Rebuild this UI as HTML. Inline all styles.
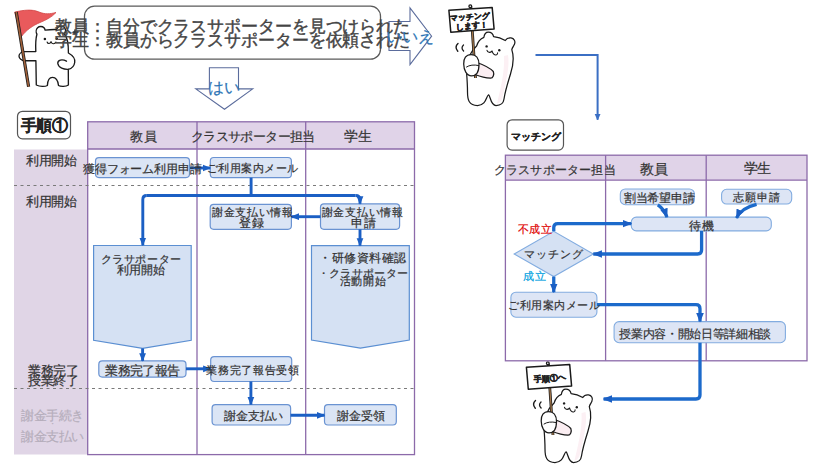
<!DOCTYPE html>
<html><head><meta charset="utf-8">
<style>
html,body{margin:0;padding:0;background:#fff;}
body{width:818px;height:464px;position:relative;overflow:hidden;font-family:"Liberation Sans",sans-serif;color:#333;}
svg{position:absolute;left:0;top:0;}
.t{position:absolute;white-space:nowrap;line-height:1;transform:translate(-50%,-50%);-webkit-text-stroke:0.2px currentColor;}
</style></head><body>
<svg width="818" height="464" viewBox="0 0 818 464">
<defs>
<marker id="ah" viewBox="0 0 10 10" refX="9" refY="5" markerWidth="2.9" markerHeight="2.9" orient="auto" markerUnits="strokeWidth">
<path d="M0,1 L10,5 L0,9 z" fill="#1b5fc4"/></marker>
<marker id="ah2" viewBox="0 0 10 10" refX="9" refY="5" markerWidth="3.4" markerHeight="3.4" orient="auto" markerUnits="strokeWidth">
<path d="M0,0.5 L10,5 L0,9.5 z" fill="#3b6fc4"/></marker>
</defs>
<!-- speech bubble -->
<rect x="84.5" y="6.2" width="296" height="53" rx="10" fill="#fff" stroke="#5a5a5a" stroke-width="1.3"/>
<!-- いいえ arrow -->
<polygon points="389,21.5 410,21.5 410,7.8 431.6,36.2 410,64.5 410,50.5 389,50.5" fill="#fff" stroke="#5b6c9c" stroke-width="1.1"/>
<!-- はい arrow -->
<polygon points="209.4,67.8 238.5,67.8 238.5,88.9 252.7,88.9 224.5,109.3 195.8,88.9 209.4,88.9" fill="#fff" stroke="#5b6c9c" stroke-width="1.1"/>
<!-- top right blue line -->
<path d="M535.5,55 H597.6 V119.8" fill="none" stroke="#3b6fc4" stroke-width="2" marker-end="url(#ah2)"/>
<!-- flag bear -->
<g id="flagbear" stroke="#1a1a1a" stroke-width="1.35" stroke-linejoin="round" stroke-linecap="round">
<path d="M15,12 C24,10 32,9 39,12 C45,14.5 50,14 56,12.5 C52,17 46,20 40,22.5 C33,25.5 26,30 21.5,36.5 Z" fill="#e95a5c" stroke="#d04848" stroke-width="0.8"/>
<path d="M35.8,51.6 C35.5,45 35.3,40 36.9,34.2 C35.8,32.3 36,29.3 37.6,27.7 C39.2,26.1 42.2,26 44,27.7 C44.6,28.4 45,29.3 45.1,30.1 C49,29.6 53,29.4 56.5,29.5 C57.4,27.3 59.4,26 61.6,26.2 C64.6,26.6 66.4,29.6 65.2,32.4 C64.9,33 64.6,33.5 64.3,33.8 C67.6,37.5 68.5,44 68.4,53 C72,55 75.5,58 74.7,62.5 C74.2,66 72,68.5 68.3,69.3 L68.4,85 C66,86.8 60.5,86.8 58.5,85.5 C58,81 56,77.4 52.5,77.4 C49,77.4 47.6,81 47.4,85.5 C45,86.8 40,86.8 36.3,85 L35.9,60.7 L25,60.7 C21.5,60.7 19,58.5 19,56.1 C19,53.6 21.5,51.6 25,51.6 Z" fill="#fff"/>
<path d="M68.3,69.3 C64,69.5 58.5,68 57.8,63.5 C57.5,60 62,58.8 66.5,61.2" fill="none"/>
<path d="M16.2,12 L28.6,86.7" stroke="#1a1a1a" stroke-width="3.2" stroke-linecap="butt"/>
<path d="M16.2,12 L28.6,86.7" stroke="#a0603a" stroke-width="1.6" stroke-linecap="butt"/>
<circle cx="44.9" cy="39.1" r="1.25" fill="#1a1a1a" stroke="none"/>
<circle cx="56.8" cy="38.8" r="1.25" fill="#1a1a1a" stroke="none"/>
<path d="M47.1,42 C47.6,43.8 50.2,44.3 51,41.6 C51.6,44.3 54.8,44.6 55.9,42" fill="none" stroke-width="1.1"/>
<path d="M75,29.6 Q75.4,31.9 77.7,32.3 Q75.4,32.7 75,35 Q74.6,32.7 72.3,32.3 Q74.6,31.9 75,29.6 Z" fill="#333" stroke="#333" stroke-width="0.6"/>
</g>
<!-- sign bear -->
<g id="signbear" stroke="#1a1a1a" stroke-width="1.25" stroke-linejoin="round" stroke-linecap="round">
<path d="M476.8,45.7 C478,41 481,38.5 483.9,37.3 C484.3,33.8 486.3,32 488.4,32 C491,32 493,34 493.6,36.6 C498,37 502,38.5 505.3,40.5 C506.5,38.5 509,37.7 511,37.9 C514.2,38.3 515.8,41.8 514.3,44.6 C513.6,46.2 512.3,47.6 511.8,49.6 C513.6,55 513.4,65 510.5,74 C508,82 505,92 504,99 C503.5,103 501,105.5 496,105.5 C490.5,105.5 490.5,96 488.6,94.8 C486,96 486.5,105.5 477.5,105.5 C469,105.5 467.5,100 467.5,92 C467.5,85 467,78 466.5,72 C466,62 470,52 476.8,45.7 Z" fill="#fff"/>
<path d="M508,55 C510,66 506,82 502,99 C500.5,102 498.5,103.5 497,103.5 C500,90 505,72 504,56 Z" fill="#fcf0f4" stroke="none"/>
<path d="M472.3,31 L475.5,78" stroke="#1a1a1a" stroke-width="2.8" stroke-linecap="butt"/>
<path d="M472.3,31 L475.5,78" stroke="#a07448" stroke-width="1.3" stroke-linecap="butt"/>
<path d="M477,62.5 C484,65 490,68 493.3,71.5 C494.5,74.5 493,78 490.5,78.2 C485,78 480,76.5 475,74.5 Z" fill="#fbeef2"/>
<path d="M471,54.5 C466,54.5 463.5,58.5 463.7,64 C463.8,70 466.5,75.8 471.5,75.8 C476.5,75.8 479,71 479,64.5 C479,58.5 476,54.5 471,54.5 Z" fill="#fff"/>
<path d="M466.5,67 C469.5,65 474,64.5 478.5,65.5" fill="none" stroke-width="1"/>
<path d="M470.9,6.5 L472.5,31" stroke="#1a1a1a" stroke-width="2.8" stroke-linecap="butt"/>
<circle cx="470.3" cy="6.3" r="1.4" fill="#fff"/>
<polygon points="448.9,10.3 492.2,7.5 494.1,29.1 450.8,32.3" fill="#fff" stroke-width="1.5"/>
<circle cx="486.6" cy="46.4" r="1.2" fill="#1a1a1a" stroke="none"/>
<circle cx="499.3" cy="50.2" r="1.2" fill="#1a1a1a" stroke="none"/>
<path d="M487,50.4 C487.5,52.5 490,53.2 492.1,51 C492.6,53.5 494.5,55.5 496.5,54.8 C497.3,54.5 497.7,53.6 497.6,52.9" fill="none" stroke-width="1.1"/>
<path d="M458,43.5 Q454.2,47 457.8,51.2" fill="none" stroke-width="1.4"/>
<path d="M463.5,45 Q460.5,47.8 463.6,51" fill="none" stroke-width="1.3"/>
</g>
<use href="#signbear" transform="translate(77.5,357)"/>
<text x="470" y="19.5" font-size="8" font-weight="bold" fill="#222" text-anchor="middle" transform="rotate(-4 470 19)" font-family="Liberation Sans" stroke="#222" stroke-width="0.5">マッチング</text>
<text x="472" y="28.5" font-size="8" font-weight="bold" fill="#222" text-anchor="middle" transform="rotate(-4 472 28)" font-family="Liberation Sans" stroke="#222" stroke-width="0.5">します！</text>
<text x="550" y="381" font-size="8" font-weight="bold" fill="#222" text-anchor="middle" transform="rotate(-4 550 380)" font-family="Liberation Sans" stroke="#222" stroke-width="0.5">手順①へ</text>

<!-- 手順① box -->
<rect x="17.5" y="111.3" width="53" height="27.5" rx="5" fill="#fff" stroke="#555" stroke-width="1.2"/>

<!-- LEFT TABLE -->
<rect x="14" y="149.5" width="73.7" height="305" fill="#e0d5e6"/>
<rect x="87.7" y="121.8" width="326.8" height="27.2" fill="#e0d3e8"/>
<g stroke="#8c6aaa" stroke-width="1.3" fill="none">
<rect x="87.7" y="121.8" width="326.8" height="332.8"/>
<line x1="87.7" y1="149" x2="414.5" y2="149"/>
<line x1="197" y1="121.8" x2="197" y2="454.6"/>
<line x1="305.7" y1="121.8" x2="305.7" y2="454.6"/>
</g>
<line x1="14" y1="185.5" x2="414.5" y2="185.5" stroke="#7a7a7a" stroke-width="1" stroke-dasharray="3,3.5"/>
<line x1="14" y1="388.5" x2="414.5" y2="388.5" stroke="#7a7a7a" stroke-width="1" stroke-dasharray="3,3.5"/>

<g fill="#dbe5f5" stroke="#6a93d2" stroke-width="1.2">
<rect x="95.5" y="157.7" width="94" height="19.9" rx="3.5"/>
<rect x="210.3" y="157.5" width="81.1" height="20.2" rx="3.5"/>
<rect x="210.2" y="204.3" width="81.2" height="25" rx="3.5"/>
<rect x="320.5" y="203.8" width="79.1" height="25.5" rx="3.5"/>
<polygon points="93.6,245.5 191.2,245.5 191.2,340.3 142.6,348.4 93.6,340.3" fill="#d5e1f3" stroke="#5b8fd2"/>
<polygon points="311.5,245.7 409.3,245.7 409.3,340 360.4,348.2 311.5,340" fill="#d5e1f3" stroke="#5b8fd2"/>
<rect x="98.8" y="360.9" width="87.2" height="16.2" rx="3.5"/>
<rect x="210.7" y="356.6" width="81" height="24.9" rx="3.5"/>
<rect x="212.1" y="404.6" width="78.5" height="20.4" rx="3.5"/>
<rect x="324.5" y="404.6" width="71.8" height="20.4" rx="3.5"/>
</g>
<g fill="none" stroke="#1b5fc4" stroke-width="2.9" stroke-linejoin="round">
<path d="M190,168 H210.3" marker-end="url(#ah)"/>
<path d="M251.1,177.7 V195.5"/>
<path d="M146.8,195.5 H355.5"/>
<path d="M355.5,195.5 Q360,195.5 360,200 V203.8" marker-end="url(#ah)"/>
<path d="M146.8,195.5 Q142.8,195.5 142.8,199.5 V245.3" marker-end="url(#ah)"/>
<path d="M320.5,216.7 H291.4" marker-end="url(#ah)"/>
<path d="M360,229.3 V245.7" marker-end="url(#ah)"/>
<path d="M142.6,348.4 V360.9" marker-end="url(#ah)"/>
<path d="M186,368.8 H210.7" marker-end="url(#ah)"/>
<path d="M250.9,381.5 V404.6" marker-end="url(#ah)"/>
<path d="M290.6,415.3 H324.5" marker-end="url(#ah)"/>
</g>

<!-- RIGHT TABLE -->
<rect x="507.1" y="119.8" width="56.4" height="30.3" rx="5" fill="#fff" stroke="#555" stroke-width="1.2"/>
<rect x="505.4" y="155.2" width="301.6" height="25" fill="#e0d3e8"/>
<g stroke="#8c6aaa" stroke-width="1.3" fill="none">
<rect x="505.4" y="155.2" width="301.6" height="205.6"/>
<line x1="505.4" y1="180.2" x2="807" y2="180.2"/>
<line x1="605.6" y1="155.2" x2="605.6" y2="360.8"/>
<line x1="706.2" y1="155.2" x2="706.2" y2="360.8"/>
</g>
<g fill="#dde5f5" stroke="#82ace0" stroke-width="1.1">
<rect x="620.3" y="189" width="74.1" height="15.7" rx="5"/>
<rect x="721.6" y="189.3" width="70.1" height="14.7" rx="5"/>
<rect x="631.3" y="217.1" width="140" height="13.8" rx="5"/>
<polygon points="514.2,254 553.75,231.3 593.3,254 553.75,276.6" fill="#d5e1f3"/>
<rect x="510.9" y="292.2" width="86" height="25" rx="5"/>
<rect x="614.1" y="321.6" width="171.3" height="21.1" rx="5"/>
</g>
<g fill="none" stroke="#1c6acb" stroke-width="3.3" stroke-linejoin="round">
<path d="M657.8,204.9 Q664,209 667,217.1" marker-end="url(#ah)"/>
<path d="M756.6,204.3 Q741,208 736.5,218" marker-end="url(#ah)"/>
<path d="M553.75,231.3 V227.6 Q553.75,223.6 557.75,223.6 H631.3" marker-end="url(#ah)"/>
<path d="M701.6,231 V250 Q701.6,254 697.6,254 H593.3" marker-end="url(#ah)"/>
<path d="M553.75,276.6 V292.2" marker-end="url(#ah)"/>
<path d="M596.9,304.7 H696 Q700,304.7 700,308.7 V321.6" marker-end="url(#ah)"/>
<path d="M700,342.7 V395 Q700,399 696,399 H603.6" marker-end="url(#ah)"/>
</g>
</svg>

<div class="t" style="left:232.6px;top:27.1px;font-size:17.15px;letter-spacing:-0.10px;color:#444;-webkit-text-stroke:0.45px currentColor;">教員：自分でクラスサポーターを見つけられた</div>
<div class="t" style="left:232.6px;top:41.4px;font-size:17.15px;letter-spacing:-0.10px;color:#444;-webkit-text-stroke:0.45px currentColor;">学生：教員からクラスサポーターを依頼された</div>
<div class="t" style="left:409.8px;top:36.6px;font-size:15.71px;letter-spacing:-0.20px;color:#2e75b6;">いいえ</div>
<div class="t" style="left:224.3px;top:86.7px;font-size:16.46px;letter-spacing:0.20px;color:#2e75b6;">はい</div>
<div class="t" style="left:44.4px;top:126.3px;font-size:15.90px;letter-spacing:-0.10px;color:#222;font-weight:bold;">手順①</div>
<div class="t" style="left:143.7px;top:137.2px;font-size:13.46px;letter-spacing:0.50px;color:#333;">教員</div>
<div class="t" style="left:252.8px;top:137.3px;font-size:12.52px;letter-spacing:-0.64px;color:#333;">クラスサポーター担当</div>
<div class="t" style="left:358.2px;top:137.4px;font-size:13.77px;letter-spacing:-0.30px;color:#333;">学生</div>
<div class="t" style="left:51.5px;top:160.7px;font-size:12.82px;letter-spacing:-0.43px;color:#333;">利用開始</div>
<div class="t" style="left:51.5px;top:201.9px;font-size:12.82px;letter-spacing:-0.43px;color:#333;">利用開始</div>
<div class="t" style="left:53.3px;top:371.2px;font-size:12.89px;letter-spacing:-0.23px;color:#333;">業務完了</div>
<div class="t" style="left:53.3px;top:380.6px;font-size:12.89px;letter-spacing:-0.23px;color:#333;">授業終了</div>
<div class="t" style="left:52.5px;top:415.6px;font-size:12.79px;letter-spacing:-0.45px;color:#b5adbb;">謝金手続き</div>
<div class="t" style="left:52.0px;top:424.1px;font-size:7.27px;letter-spacing:0.00px;color:#b5adbb;">・</div>
<div class="t" style="left:52.5px;top:436.7px;font-size:12.79px;letter-spacing:-0.45px;color:#b5adbb;">謝金支払い</div>
<div class="t" style="left:142.3px;top:168.5px;font-size:11.67px;letter-spacing:-0.16px;color:#333;">獲得フォーム利用申請</div>
<div class="t" style="left:252.9px;top:169.3px;font-size:11.12px;letter-spacing:0.50px;color:#333;">ご利用案内メール</div>
<div class="t" style="left:252.9px;top:213.0px;font-size:11.45px;letter-spacing:0.73px;color:#333;">謝金支払い情報</div>
<div class="t" style="left:252.2px;top:223.2px;font-size:12.46px;letter-spacing:1.60px;color:#333;">登録</div>
<div class="t" style="left:362.8px;top:213.0px;font-size:11.47px;letter-spacing:0.78px;color:#333;">謝金支払い情報</div>
<div class="t" style="left:364.1px;top:223.2px;font-size:12.38px;letter-spacing:1.30px;color:#333;">申請</div>
<div class="t" style="left:141.3px;top:260.3px;font-size:11.13px;letter-spacing:0.60px;color:#333;">クラサポーター</div>
<div class="t" style="left:141.3px;top:270.7px;font-size:11.93px;letter-spacing:0.07px;color:#333;">利用開始</div>
<div class="t" style="left:363.1px;top:258.0px;font-size:12.48px;letter-spacing:0.50px;color:#333;">・研修資料確認</div>
<div class="t" style="left:363.0px;top:272.7px;font-size:10.86px;letter-spacing:0.29px;color:#333;">・クラサポーター</div>
<div class="t" style="left:363.2px;top:282.4px;font-size:11.25px;letter-spacing:0.83px;color:#333;">活動開始</div>
<div class="t" style="left:142.5px;top:371.1px;font-size:12.53px;letter-spacing:-0.66px;color:#333;">業務完了報告</div>
<div class="t" style="left:252.9px;top:370.7px;font-size:11.24px;letter-spacing:0.66px;color:#333;">業務完了報告受領</div>
<div class="t" style="left:253.6px;top:416.8px;font-size:11.58px;letter-spacing:-0.17px;color:#333;">謝金支払い</div>
<div class="t" style="left:361.1px;top:416.9px;font-size:11.89px;letter-spacing:-0.03px;color:#333;">謝金受領</div>
<div class="t" style="left:535.9px;top:136.6px;font-size:10.37px;letter-spacing:-0.15px;color:#222;font-weight:bold;">マッチング</div>
<div class="t" style="left:554.8px;top:170.1px;font-size:12.19px;letter-spacing:0.22px;color:#333;">クラスサポーター担当</div>
<div class="t" style="left:654.0px;top:168.6px;font-size:14.15px;letter-spacing:0.20px;color:#333;">教員</div>
<div class="t" style="left:757.0px;top:169.3px;font-size:13.69px;letter-spacing:-0.60px;color:#333;">学生</div>
<div class="t" style="left:659.2px;top:198.2px;font-size:11.63px;letter-spacing:-0.20px;color:#333;">割当希望申請</div>
<div class="t" style="left:757.0px;top:198.1px;font-size:11.43px;letter-spacing:1.00px;color:#333;">志願申請</div>
<div class="t" style="left:702.1px;top:225.6px;font-size:12.38px;letter-spacing:1.30px;color:#333;">待機</div>
<div class="t" style="left:554.0px;top:254.7px;font-size:11.44px;letter-spacing:0.95px;color:#333;">マッチング</div>
<div class="t" style="left:534.9px;top:228.8px;font-size:10.68px;letter-spacing:0.35px;color:#e00000;">不成立</div>
<div class="t" style="left:534.9px;top:275.9px;font-size:10.85px;letter-spacing:1.30px;color:#00a0e0;">成立</div>
<div class="t" style="left:554.3px;top:305.5px;font-size:11.15px;letter-spacing:0.56px;color:#333;">ご利用案内メール</div>
<div class="t" style="left:695.2px;top:334.6px;font-size:11.52px;letter-spacing:-0.33px;color:#333;">授業内容・開始日等詳細相談</div>
</body></html>
